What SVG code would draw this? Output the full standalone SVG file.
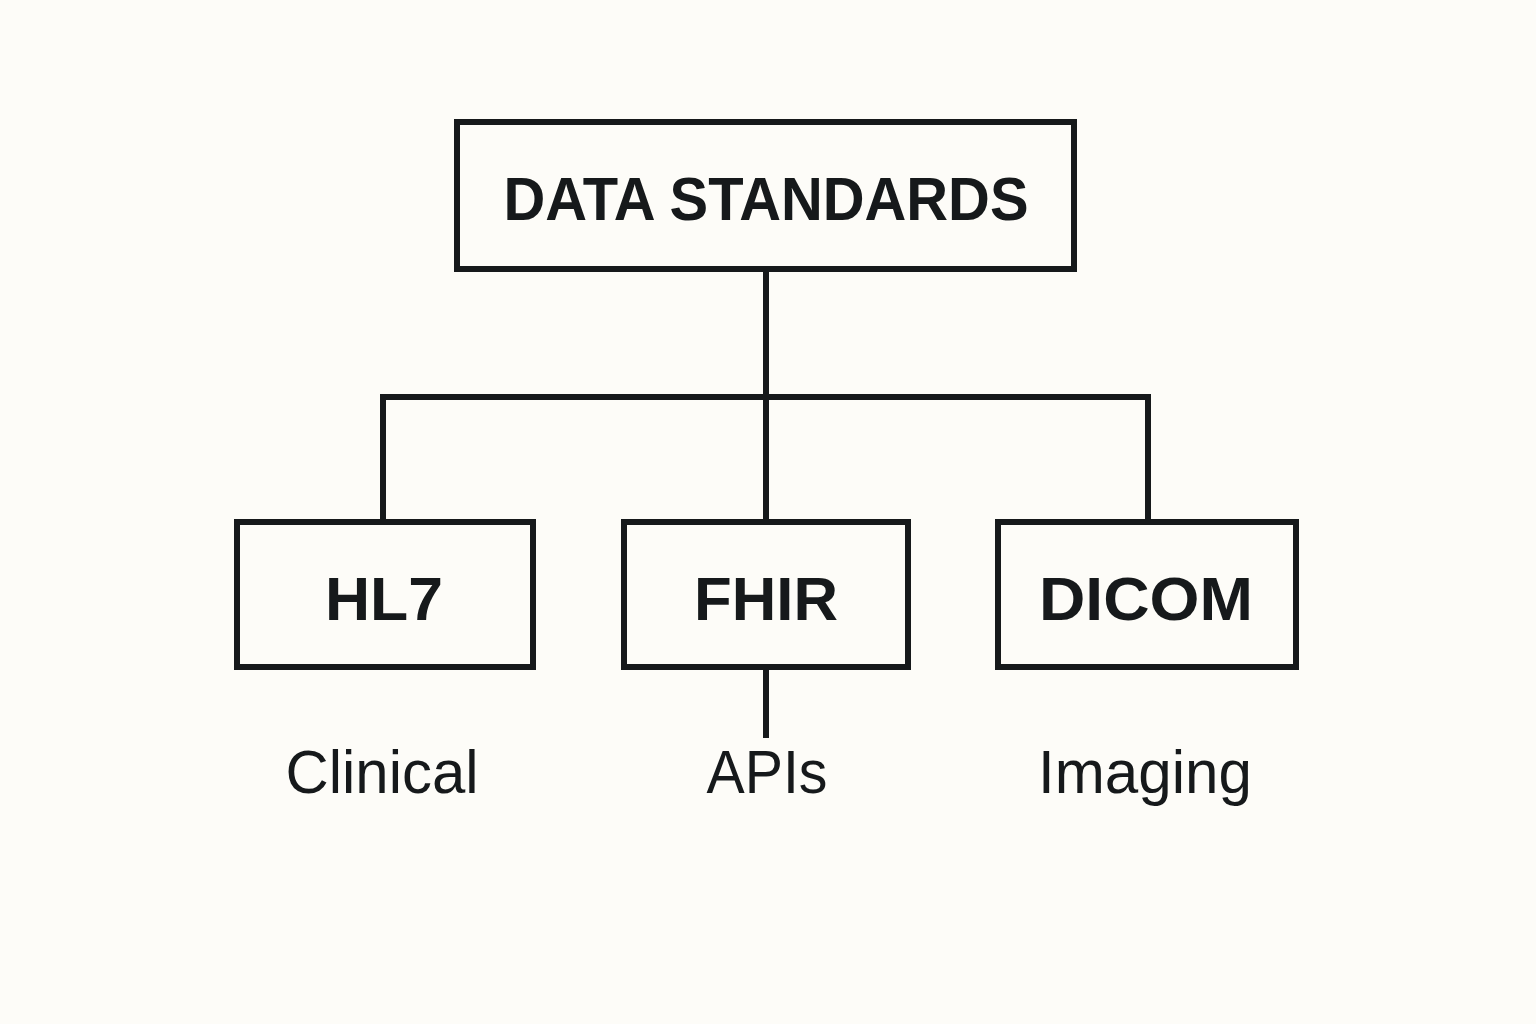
<svg xmlns="http://www.w3.org/2000/svg" width="1536" height="1024" viewBox="0 0 1536 1024">
<style>
.box{fill:none;stroke:#16191b;stroke-width:6}
.conn{fill:none;stroke:#16191b;stroke-width:6;stroke-linecap:butt}
.title{font-family:"Liberation Sans",Arial,sans-serif;font-weight:bold;font-size:62px;fill:#16191b;text-anchor:middle}
.sub{font-family:"Liberation Sans",Arial,sans-serif;font-size:62px;fill:#16191b;text-anchor:middle}
</style>
<rect width="1536" height="1024" fill="#fdfcf8"/>
<g id="connectors">
<path class="conn" d="M766 271 V520"/>
<path class="conn" d="M383 520 V397 H1148 V520"/>
<path class="conn" d="M766 670 V738"/>
</g>
<g id="data-standards">
<rect class="box" x="457" y="122" width="617" height="147"/>
<text class="title" x="766" y="220" textLength="525" lengthAdjust="spacingAndGlyphs">DATA STANDARDS</text>
</g>
<g id="hl7">
<rect class="box" x="237" y="522" width="296" height="145"/>
<text class="title" x="384" y="620" textLength="118" lengthAdjust="spacingAndGlyphs">HL7</text>
</g>
<g id="fhir">
<rect class="box" x="624" y="522" width="284" height="145"/>
<text class="title" x="766" y="620" textLength="144" lengthAdjust="spacingAndGlyphs">FHIR</text>
</g>
<g id="dicom">
<rect class="box" x="998" y="522" width="298" height="145"/>
<text class="title" x="1146" y="620" textLength="214" lengthAdjust="spacingAndGlyphs">DICOM</text>
</g>
<g id="labels">
<text class="sub" x="382" y="793" textLength="193" lengthAdjust="spacingAndGlyphs">Clinical</text>
<text class="sub" x="767" y="793" textLength="121" lengthAdjust="spacingAndGlyphs">APIs</text>
<text class="sub" x="1145" y="793" textLength="214" lengthAdjust="spacingAndGlyphs">Imaging</text>
</g>
</svg>
